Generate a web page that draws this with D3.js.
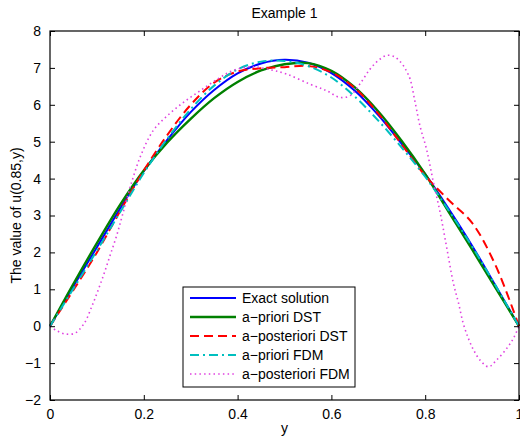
<!DOCTYPE html>
<html>
<head>
  <script src="https://d3js.org/d3.v7.min.js"></script>
  <style>
    body { margin: 0; background: #fff; }
    svg text { font-family: "Liberation Sans", Arial, sans-serif; }
  </style>
</head>
<body>
<div id="plot"></div>
<script>

  // grid for the smooth solutions
  var yGrid = [0, 0.05, 0.1, 0.15, 0.2, 0.25, 0.3, 0.35, 0.4, 0.45, 0.5,
               0.55, 0.6, 0.65, 0.7, 0.75, 0.8, 0.85, 0.9, 0.95, 1];

  var exactVals   = [0, 1.08, 2.14, 3.2, 4.2, 5.05, 5.8, 6.4, 6.85, 7.12, 7.22,
                     7.14, 6.86, 6.38, 5.72, 4.94, 4.12, 3.18, 2.18, 1.1, 0];
  var aprioriDST  = [0, 1.15, 2.25, 3.3, 4.22, 4.98, 5.62, 6.18, 6.62, 6.93, 7.1,
                     7.13, 6.92, 6.47, 5.82, 5.02, 4.12, 3.1, 2.08, 1.04, 0];
  var apostDST    = [0, 0.98, 2.0, 3.13, 4.22, 5.18, 6.0, 6.6, 6.9, 6.99, 7.02,
                     7.05, 6.88, 6.45, 5.76, 4.92, 4.08, 3.42, 2.8, 1.65, 0];
  var aprioriFDM  = [0, 1.02, 2.05, 3.1, 4.15, 5.08, 5.88, 6.52, 6.96, 7.17, 7.19,
                     7.05, 6.74, 6.22, 5.57, 4.84, 4.05, 3.14, 2.16, 1.1, 0];

  // a-posteriori FDM has its own sample points
  var fdmPostY = [0, 0.014, 0.032, 0.053, 0.073, 0.089, 0.103, 0.117, 0.13, 0.142,
                  0.154, 0.174, 0.195, 0.22, 0.249, 0.284, 0.32, 0.36, 0.39, 0.43,
                  0.47, 0.505, 0.554, 0.59, 0.618, 0.64, 0.66, 0.682, 0.7, 0.718,
                  0.735, 0.75, 0.76, 0.768, 0.778, 0.789, 0.803, 0.817, 0.832,
                  0.846, 0.86, 0.871, 0.881, 0.892, 0.903, 0.917, 0.935, 0.952,
                  0.974, 0.988, 1];
  var fdmPostVals = [0, -0.12, -0.21, -0.19, 0.08, 0.53, 0.99, 1.49, 1.99, 2.45,
                     2.99, 3.9, 4.67, 5.3, 5.69, 6.06, 6.38, 6.72, 6.93, 7.03,
                     6.95, 6.83, 6.56, 6.38, 6.2, 6.25, 6.55, 6.96, 7.2, 7.34,
                     7.3, 7.12, 6.92, 6.69, 6.1, 5.42, 4.79, 3.93, 3.07,
                     2.12, 1.17, 0.63, 0.08, -0.33, -0.64, -0.92, -1.1, -0.92,
                     -0.6, -0.33, 0];

  var xTicks = [0, 0.2, 0.4, 0.6, 0.8, 1];
  var yTicks = [-2, -1, 0, 1, 2, 3, 4, 5, 6, 7, 8];

  var seriesNames = ["Exact solution", "a\u2212priori DST", "a\u2212posteriori DST",
                     "a\u2212priori FDM", "a\u2212posteriori FDM"];
  var seriesColors = ["#0000ff", "#008000", "#ff0000", "#00bfbf", "#e040e0"];
  var seriesDash = [null, null, "9,5", "9,4,2,4", "1.5,3.2"];
  var seriesWidth = [2, 2.4, 2, 2, 1.6];

  var W = 520, H = 436;
  var pLeft = 50, pRight = 519, pTop = 31, pBottom = 400;

  var svg = d3.select("#plot").append("svg")
              .attr("width", W)
              .attr("height", H);

  var x = d3.scaleLinear().domain([0, 1]).range([pLeft, pRight]);
  var y = d3.scaleLinear().domain([-2, 8]).range([pBottom, pTop]);

  var series = [
    yGrid.map(function(d, i) { return [d, exactVals[i]]; }),
    yGrid.map(function(d, i) { return [d, aprioriDST[i]]; }),
    yGrid.map(function(d, i) { return [d, apostDST[i]]; }),
    yGrid.map(function(d, i) { return [d, aprioriFDM[i]]; }),
    fdmPostY.map(function(d, i) { return [d, fdmPostVals[i]]; })
  ];

  var line = d3.line()
    .x(function(d) { return x(d[0]); })
    .y(function(d) { return y(d[1]); })
    .curve(d3.curveCatmullRom.alpha(0.5));

  // curves
  series.forEach(function(s, i) {
    svg.append("path")
      .attr("d", line(s))
      .attr("fill", "none")
      .attr("stroke", seriesColors[i])
      .attr("stroke-width", seriesWidth[i])
      .attr("stroke-dasharray", seriesDash[i]);
  });

  // axes, ticks pointing inward on all sides
  var tickLen = 5;
  var xAxis = d3.axisBottom(x).tickValues(xTicks).tickSizeInner(-tickLen).tickSizeOuter(0)
                .tickPadding(9).tickFormat(d3.format("~g"));
  var xAxisTop = d3.axisTop(x).tickValues(xTicks).tickSizeInner(-tickLen).tickSizeOuter(0).tickFormat("");
  var yAxis = d3.axisLeft(y).tickValues(yTicks).tickSizeInner(-tickLen).tickSizeOuter(0)
                .tickPadding(9).tickFormat(function(d) { return d < 0 ? "\u2212" + (-d) : d; });
  var yAxisRight = d3.axisRight(y).tickValues(yTicks).tickSizeInner(-tickLen).tickSizeOuter(0).tickFormat("");

  svg.append("g").attr("transform", "translate(0," + pBottom + ")").call(xAxis);
  svg.append("g").attr("transform", "translate(0," + pTop + ")").call(xAxisTop);
  svg.append("g").attr("transform", "translate(" + pLeft + ",0)").call(yAxis);
  svg.append("g").attr("transform", "translate(" + pRight + ",0)").call(yAxisRight);

  svg.selectAll(".domain").remove();
  svg.selectAll(".tick line").attr("stroke", "#000");
  svg.selectAll(".tick text").attr("fill", "#000").style("font-size", "14px");

  svg.append("rect")
    .attr("x", pLeft).attr("y", pTop)
    .attr("width", pRight - pLeft).attr("height", pBottom - pTop)
    .attr("fill", "none").attr("stroke", "#000").attr("stroke-width", 1.2);

  // labels
  svg.append("text")
    .attr("x", (pLeft + pRight) / 2).attr("y", 18)
    .attr("text-anchor", "middle").style("font-size", "14px")
    .text("Example 1");

  svg.append("text")
    .attr("x", (pLeft + pRight) / 2).attr("y", 433)
    .attr("text-anchor", "middle").style("font-size", "14px")
    .text("y");

  svg.append("text")
    .attr("transform", "translate(21," + ((pTop + pBottom) / 2) + ") rotate(-90)")
    .attr("text-anchor", "middle").style("font-size", "14px")
    .text("The value of u(0.85,y)");

  // legend
  var lg = svg.append("g");
  lg.append("rect")
    .attr("x", 183).attr("y", 287).attr("width", 172).attr("height", 100)
    .attr("fill", "#fff").attr("stroke", "#000").attr("stroke-width", 1);

  seriesNames.forEach(function(name, i) {
    var ry = 298 + i * 19;
    lg.append("line")
      .attr("x1", 190).attr("x2", 236).attr("y1", ry).attr("y2", ry)
      .attr("stroke", seriesColors[i])
      .attr("stroke-width", seriesWidth[i])
      .attr("stroke-dasharray", seriesDash[i]);
    lg.append("text")
      .attr("x", 242).attr("y", ry + 5)
      .style("font-size", "14px")
      .text(name);
  });

</script>
</body>
</html>
